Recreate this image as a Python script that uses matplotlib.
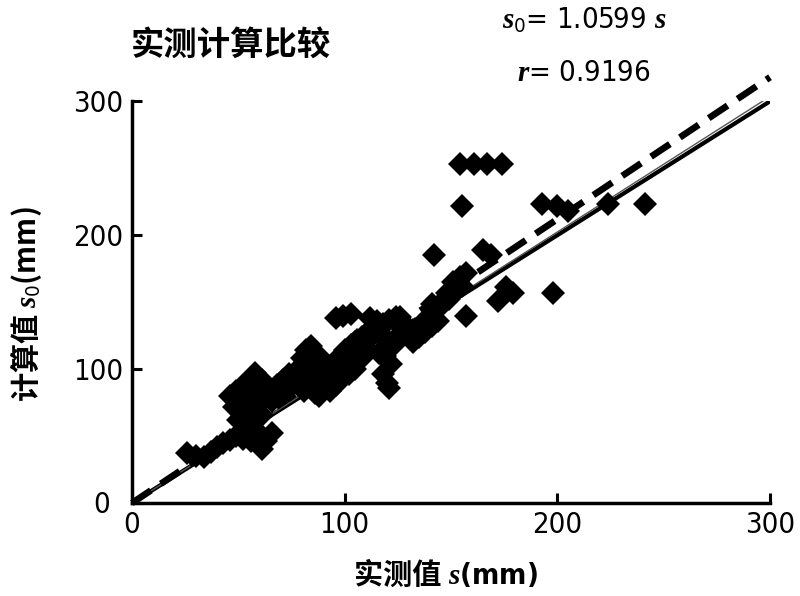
import matplotlib
matplotlib.use("Agg")
import matplotlib.pyplot as plt
import numpy as np

# measured s (mm) and calculated s0 (mm)
meas = [26, 30, 34, 37, 40, 43, 46, 49, 52, 55, 58, 61, 63, 66,
        46, 49, 52, 55, 58, 61, 48, 51, 54, 57, 60, 63, 50, 53, 56, 59, 62, 52, 55, 58, 61, 56, 59,
        66, 69, 72, 75, 68, 71, 74, 77, 70, 73, 76,
        78, 80, 82, 84, 79, 82, 85, 88, 81, 84, 87, 90, 86, 89, 92, 95, 88, 91, 94, 97, 93, 96, 99,
        97, 100, 103, 106, 100, 103, 106, 109, 102, 105, 108, 111, 105, 108, 111, 114, 96, 99, 103,
        112, 115, 118, 121, 124, 127, 114, 117, 120, 123, 126, 129, 116, 119, 122, 118, 120, 121,
        130, 133, 136, 139, 132, 135, 138, 141, 144, 140, 143, 146, 149, 146, 149, 152, 155, 151, 154, 157,
        141, 148, 157, 126, 132,
        154, 161, 167, 174, 155, 193, 200, 205, 224, 241, 142, 165, 169, 176, 179, 172, 198]
calc = [37, 35, 34, 38, 42, 45, 47, 50, 48, 52, 55, 40, 46, 52,
        80, 84, 88, 92, 97, 92, 72, 76, 80, 84, 88, 84, 62, 66, 70, 74, 78, 54, 58, 62, 66, 46, 50,
        76, 80, 84, 88, 88, 92, 96, 98, 82, 86, 90,
        100, 108, 114, 117, 90, 96, 104, 110, 84, 90, 98, 106, 82, 88, 96, 104, 80, 86, 92, 100, 84, 88, 94,
        108, 114, 118, 122, 100, 106, 112, 116, 96, 100, 108, 114, 120, 124, 128, 132, 138, 140, 141,
        138, 136, 134, 137, 139, 134, 128, 126, 122, 118, 126, 130, 112, 110, 104, 96, 90, 86,
        126, 130, 134, 138, 120, 124, 128, 132, 136, 140, 144, 148, 152, 150, 154, 158, 162, 165, 169, 172,
        149, 157, 140, 139, 129,
        253, 253, 253, 253, 222, 223, 222, 218, 223, 223, 185, 189, 185, 161, 157, 151, 157]

slope_calc = 1.0599
x_ticks = [0, 100, 200, 300]
y_ticks = [0, 100, 200, 300]

plt.rcParams['font.family'] = ['DejaVu Sans']
plt.rcParams['font.stretch'] = 'condensed'
plt.rcParams['mathtext.fontset'] = 'custom'
plt.rcParams['mathtext.it'] = 'Liberation Serif:italic:bold'
plt.rcParams['mathtext.rm'] = 'DejaVu Sans'

fig = plt.figure(figsize=(8.0, 5.96), dpi=100)
ax = fig.add_axes([0.165, 0.156, 0.7975, 0.674])

xx = np.array([0, 300])
ax.plot(xx, xx, color='black', lw=3.0, solid_capstyle='butt', zorder=2)
ax.plot(xx, xx * 1.012, color='#555555', lw=1.0, zorder=2)
ax.plot(xx, xx * slope_calc, color='black', lw=4.8, dashes=(3.4, 1.8), zorder=2, clip_on=False)
ax.plot(meas, calc, linestyle='none', marker='D', markersize=12.5, color='black',
        markeredgewidth=0, zorder=3)

ax.set_xlim(0, 300)
ax.set_ylim(0, 300)
ax.set_xticks(x_ticks)
ax.set_yticks(y_ticks)
ax.set_xticklabels(['0', '100', '200', '300'])
ax.set_yticklabels(['', '100', '200', '300'])
for s in ['top', 'right']:
    ax.spines[s].set_visible(False)
for s in ['left', 'bottom']:
    ax.spines[s].set_linewidth(2.5)
ax.tick_params(direction='in', length=7, width=2.2, labelsize=21, pad=6)
ax.text(-0.035, -0.005, '0', transform=ax.transAxes, fontsize=21, ha='right', va='center')

cjk = ['Noto Sans CJK SC', 'DejaVu Sans']
fig.text(0.163, 0.922, '实测计算比较', fontsize=24, fontweight='bold', family=cjk, ha='left', va='center')
fig.text(0.73, 0.965, r'$s_0$= 1.0599 $s$', fontsize=21, ha='center', va='center')
fig.text(0.73, 0.878, r'$r$= 0.9196', fontsize=21, ha='center', va='center')

fig.text(0.56, 0.035, '实测值 ', fontsize=21, fontweight='bold', family=cjk, ha='right', va='center')
fig.text(0.56, 0.035, r'$s$(mm)', fontsize=21, fontweight='bold', ha='left', va='center')
fig.text(0.033, 0.49, r'计算值 $s_0$(mm)', fontsize=21, fontweight='bold', family=cjk,
         rotation=90, ha='center', va='center')

fig.savefig('out.png', dpi=100)
